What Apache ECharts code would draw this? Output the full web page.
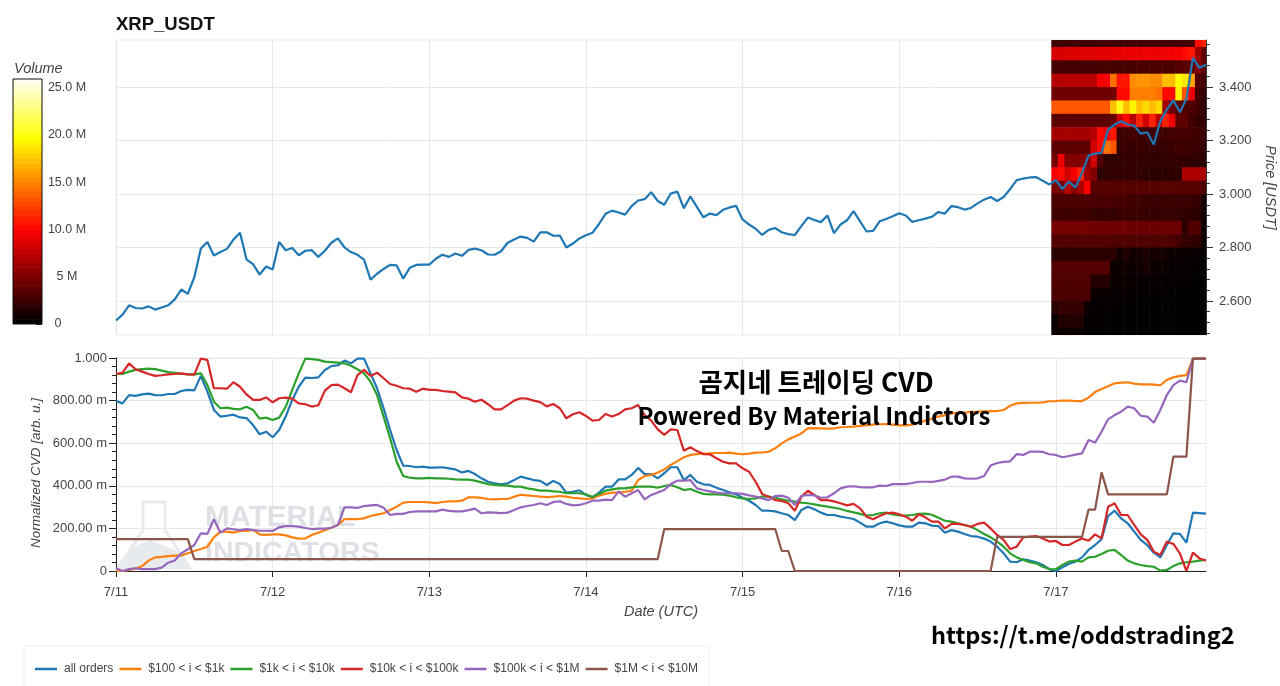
<!DOCTYPE html>
<html>
<head>
<meta charset="utf-8">
<title>XRP_USDT CVD</title>
<script src="https://cdn.jsdelivr.net/npm/echarts@6/dist/echarts.min.js"></script>
<style>
html,body{margin:0;padding:0;background:#fff;overflow:hidden;}
#main{width:1280px;height:686px;}
</style>
</head>
<body>
<div id="main"></div>
<script>
// hours since 7/11 00:00 UTC, one point per hour (0..167)
var dayTicks = ['7/11','7/12','7/13','7/14','7/15','7/16','7/17'];
var dayTickHours = [0,24,48,72,96,120,144];
var priceTicks = [2.6,2.8,3.0,3.2,3.4];
var priceMinorTicks = [2.48,2.52,2.56,2.64,2.68,2.72,2.76,2.84,2.88,2.92,2.96,3.04,3.08,3.12,3.16,3.24,3.28,3.32,3.36,3.44,3.48,3.52,3.56];
var seriesNames = ['all orders','$100 < i < $1k','$1k < i < $10k','$10k < i < $100k','$100k < i < $1M','$1M < i < $10M'];
var seriesColors = ['#1f77b4','#ff7f0e','#2ca02c','#d62728','#9467bd','#8c564b'];

var price = [
2.527,2.549,2.584,2.574,2.572,2.580,2.568,2.576,2.584,2.606,
2.643,2.627,2.689,2.796,2.821,2.770,2.783,2.795,2.830,2.855,
2.755,2.738,2.699,2.729,2.718,2.821,2.790,2.798,2.771,2.788,
2.790,2.765,2.788,2.818,2.834,2.801,2.783,2.773,2.755,2.680,
2.702,2.720,2.735,2.733,2.684,2.724,2.735,2.736,2.736,2.758,
2.773,2.765,2.778,2.769,2.791,2.796,2.790,2.774,2.773,2.786,
2.818,2.830,2.841,2.836,2.822,2.857,2.857,2.844,2.845,2.800,
2.815,2.834,2.846,2.855,2.888,2.926,2.938,2.931,2.923,2.955,
2.976,2.981,3.007,2.974,2.960,3.002,3.009,2.947,2.991,2.952,
2.913,2.927,2.921,2.941,2.950,2.956,2.905,2.886,2.870,2.847,
2.866,2.873,2.857,2.850,2.847,2.880,2.912,2.903,2.895,2.920,
2.854,2.886,2.902,2.936,2.898,2.860,2.862,2.898,2.907,2.917,
2.928,2.920,2.896,2.902,2.908,2.915,2.933,2.927,2.955,2.951,
2.942,2.948,2.965,2.979,2.989,2.974,2.989,3.019,3.052,3.058,
3.062,3.063,3.050,3.036,3.052,3.019,3.047,3.024,3.079,3.144,
3.151,3.154,3.241,3.260,3.272,3.260,3.256,3.226,3.231,3.185,
3.272,3.316,3.351,3.306,3.356,3.509,3.472,3.483
];

var allOrders = [
798,787,826,822,829,833,826,825,831,831,
845,850,848,916,842,756,725,729,734,721,
718,685,642,654,628,662,725,803,865,908,
906,909,944,962,966,988,975,997,997,928,
858,764,662,568,495,493,487,490,485,485,
487,482,477,463,470,455,435,419,412,407,
412,427,443,435,427,423,404,423,408,368,
372,379,357,346,368,396,396,430,430,451,
484,455,455,435,459,487,487,427,451,419,
407,404,391,380,369,360,344,330,310,283,
283,280,271,263,239,286,302,290,274,263,
263,255,250,244,227,208,208,224,232,224,
214,208,208,227,224,213,211,180,192,185,
174,164,161,152,138,114,83,44,41,55,
49,41,28,8,0,17,34,44,64,99,
122,149,258,283,247,224,185,146,122,86,
64,122,177,174,133,274,272,269
];
var order100to1k = [
0,0,5,11,23,49,64,66,70,72,
73,83,94,103,114,158,185,185,180,188,
188,193,172,170,172,172,167,158,152,153,
169,180,192,203,216,243,244,244,247,258,
265,271,286,302,321,324,324,324,322,319,
324,327,327,330,346,346,343,338,336,338,
338,349,358,355,352,349,347,349,352,349,
344,341,338,341,354,362,368,368,372,377,
427,446,451,462,477,498,516,534,545,549,
551,552,554,554,556,551,548,551,556,557,
560,576,599,618,631,646,670,671,670,668,
670,675,676,678,681,684,687,689,690,687,
684,684,687,695,706,715,725,732,740,742,
743,747,748,750,751,751,756,776,787,789,
790,790,792,797,798,800,800,798,798,814,
840,854,867,881,884,886,880,876,876,875,
872,897,909,916,920,997,997,997
];
var order1kto10k = [
925,925,936,944,948,950,948,941,934,930,
926,923,923,928,873,795,764,767,761,759,
771,756,715,720,709,720,771,850,928,997,
995,991,983,981,978,975,964,947,928,889,
826,725,623,513,446,438,435,435,437,435,
435,433,430,429,429,424,416,408,404,402,
401,396,396,388,383,377,377,374,372,365,
365,365,360,347,362,377,383,388,388,393,
396,396,396,391,399,404,393,380,385,372,
362,360,360,358,354,346,341,338,341,349,
349,344,336,330,326,321,318,313,307,302,
297,291,282,275,268,260,263,271,274,266,
261,260,263,268,269,264,250,236,232,224,
216,208,192,174,158,138,114,83,64,52,
41,36,20,9,8,28,44,49,44,64,
67,80,95,99,75,49,36,28,23,20,
2,5,23,36,41,44,49,52
];
var order10kto100k = [
925,931,975,947,936,925,916,919,923,925,
928,923,922,997,991,858,858,856,886,865,
829,803,803,815,792,811,814,809,787,783,
772,778,847,873,875,858,839,920,944,916,
931,905,878,870,858,856,842,856,850,850,
845,842,839,815,809,795,804,783,759,759,
779,800,811,809,800,793,773,784,764,717,
736,745,728,706,709,737,725,737,759,764,
779,732,706,665,639,665,662,565,581,563,
549,548,529,513,505,505,482,466,419,362,
349,333,329,318,283,349,377,357,333,333,
327,318,308,315,294,255,243,258,271,274,
266,255,236,266,252,232,232,200,221,221,
216,208,221,227,200,169,146,103,114,158,
161,164,153,138,141,122,122,138,153,142,
172,153,302,318,263,263,216,172,146,91,
75,138,127,83,0,86,59,49
];
var order100kto1M = [
13,0,9,13,9,9,9,16,39,49,
83,102,122,177,174,243,180,200,196,192,
197,192,189,189,188,205,211,211,208,202,
197,199,199,203,216,299,299,296,305,308,
310,297,263,268,268,277,280,280,280,280,
288,282,280,280,286,293,271,275,274,272,
274,286,299,305,310,318,310,324,327,315,
308,310,318,330,330,335,333,374,349,365,
380,336,357,369,380,408,424,424,427,388,
380,374,368,365,365,365,362,355,349,341,
333,352,354,344,310,352,357,355,344,346,
365,388,396,398,394,393,393,401,399,408,
408,408,413,419,419,418,423,429,443,443,
435,433,435,446,495,507,512,515,549,545,
560,560,559,548,545,534,540,546,552,615,
603,654,712,732,748,772,764,729,725,696,
756,826,873,894,886,997,997,997
];
var order1Mto10M = [
150,150,150,150,150,150,150,150,150,150,
150,150,56,56,56,56,56,56,56,56,
56,56,56,56,56,56,56,56,56,56,
56,56,56,56,56,56,56,56,56,56,
56,56,56,56,56,56,56,56,56,56,
56,56,56,56,56,56,56,56,56,56,
56,56,56,56,56,56,56,56,56,56,
56,56,56,56,56,56,56,56,56,56,
56,56,56,56,197,197,197,197,197,197,
197,197,197,197,197,197,197,197,197,197,
197,197,94,94,0,0,0,0,0,0,
0,0,0,0,0,0,0,0,0,0,
0,0,0,0,0,0,0,0,0,0,
0,0,0,0,0,160,160,160,160,160,
160,160,160,160,160,160,160,160,160,288,
288,463,360,360,360,360,360,360,360,360,
360,360,537,537,537,997,997,997
];

// heatmap: volume in millions per price bin (bin low edge, top row first), one column per hour
var heatFirstHour = 143.3;
var heatBinHeight = 0.05;
var heatPriceBins = [3.55,3.50,3.45,3.40,3.35,3.30,3.25,3.20,3.15,3.10,3.05,3.00,2.95,2.90,2.85,2.80,2.75,2.70,2.65,2.60,2.55,2.50,2.45];
var heatVolumes = [
[2.4,2.4,2.4,2.5,2.5,2.5,2.5,2.5,2.5,2.5,2.5,2.5,2.6,2.6,2.6,2.6,2.6,2.6,2.6,2.6,2.7,2.5,10,11],
[8.2,8.2,8.3,8.3,8.5,8.5,8.5,8.6,8.6,8.8,8.8,8.8,8.9,8.9,9,9,9,9.2,9.2,9.5,10,10.5,6,3.5],
[2.6,2.6,2.6,2.6,2.6,2.6,2.6,2.7,2.7,2.7,2.7,2.7,2.7,2.8,2.8,2.8,2.8,2.9,2.9,3.2,3.4,3.6,5,3.6],
[6.8,6.8,7,7,7,7,7,9.3,9.5,14,10.5,10.5,15,15.5,15.5,15,15,17,17,19.5,18.5,16,3,2.5],
[4.2,4.2,4.2,4.2,4.2,4.2,4.2,4.2,4.2,4.3,10,10,14.5,14.5,14.5,14.5,14,10,10,19,13,9,2.5,2],
[13,13,13,13,13,13,13,13,13,17,20,17,19,17,18,17,18,6,4,3.5,3,3,2.5,2],
[3.5,3.5,3.5,3.5,3.5,3.5,3.5,3.5,3.5,4,8,10,7,11,8,11,7,11,9,3.5,3.5,2.5,2,2],
[6.3,6.3,6.3,6.3,6.3,6.3,7,10,9,10.5,2.2,2.4,2.5,2.3,2.5,2.4,2.3,2.4,2.5,2.6,2.6,2.5,2.4,2.2],
[3.5,3.5,3.5,3.5,3.5,3.5,8,10,14,13,2,2.2,2.1,2.2,2.1,2,2,2,2.2,2.4,2.4,2.3,2.1,2],
[4.5,9,5,5,5,5,8,3,1.8,1.8,1.9,1.9,2,1.9,1.9,1.8,1.8,1.8,1.9,1.9,1.9,1.8,1.8,1.7],
[9.5,10,8,9.5,11,6,5,1.8,1.8,1.9,1.9,2,2,2,1.7,1.7,1.7,1.7,1.7,1.7,6.5,6.5,6.5,6.5],
[4.5,4.5,7,5,6.5,9.5,3.3,3.3,3.3,3.3,3.3,3.3,3.3,3.3,3.3,3.3,3.3,3.3,3.3,3.3,3.3,3.3,3.3,3],
[2.8,2.8,2.8,2.8,2.8,2.8,2.8,2.8,2.8,2.8,2.6,2.6,2.4,2.4,2.2,2.2,2.2,2.2,2.2,2.2,2.2,2.2,2,0.8],
[2.4,2.4,2.4,2.4,2.4,2.4,2,2,2,2,2.2,2.2,2.2,2.2,2,2,2,2,2,2,1.8,1.8,1.5,0.6],
[4.5,4.5,4.5,4.5,4.4,4.4,4.2,4.2,4.2,4.2,4.2,4.2,4,4,4,4,4,4,4,4,1.8,3.2,3,0.5],
[3.2,3.2,3.2,3.2,3.2,3.2,3.2,3.2,3.2,3.1,3.1,3.1,3.1,3,3,3,3,3,2.9,2.5,2,2,1.8,0.3],
[1.6,1.6,1.6,1.6,1.6,1.6,1.6,1.6,1.6,1.6,0.7,1.2,0.7,0.7,1.1,0.8,0.9,0.6,0.5,0.5,0.4,0.4,0.3,0.2],
[3.2,3.2,3.2,3.2,3.2,3.2,3.2,3.2,3.2,0.5,0.5,0.7,0.5,0.6,0.9,0.5,0.4,0.4,0.3,0.3,0.3,0.2,0.2,0.1],
[3,3,3,3,3,3,1.5,1.5,1.5,0.4,0.4,0.4,0.3,0.3,0.3,0.3,0.3,0.2,0.2,0.2,0.2,0.2,0.1,0.1],
[2.8,2.8,2.8,2.8,2.8,2.8,0.4,0.4,0.4,0.3,0.3,0.3,0.2,0.2,0.2,0.2,0.2,0.2,0.1,0.1,0.1,0.1,0.1,0.1],
[1.5,2,2,2,2,0.4,0.2,0.2,0.2,0.2,0.2,0.1,0.1,0.1,0.1,0.1,0.1,0.1,0.1,0.1,0.1,0.1,0.1,0.1],
[0.3,1.2,1.2,1.2,1.2,0.2,0.15,0.15,0.1,0.1,0.1,0.1,0.1,0.1,0.1,0.1,0.1,0.1,0.1,0.1,0.1,0.1,0.1,0.1],
[0.5,0.5,0.5,0.5,0.5,0.2,0.1,0.1,0.1,0.1,0.1,0.1,0.1,0.1,0.1,0.1,0.1,0.1,0.1,0.1,0.1,0.1,0.1,0.1]
];
var colorbarSteps = [0,0.5,1,1.5,2,2.5,3,3.5,4,4.5,5,5.5,6,6.5,7,7.5,8,8.5,9,9.5,10,10.5,11,11.5,12,12.5,13,13.5,14,14.5,15,15.5,16,16.5,17,17.5,18,18.5,19,19.5,20,20.5,21,21.5,22,22.5,23,23.5,24,24.5,25,25.5];
var hotColors = ['#000000','#550000','#aa0000','#ff0000','#ff5500','#ffaa00','#ffff00','#ffff80','#ffffff'];

function withHours(values){
    return values.map(function(v,i){ return [i,v]; });
}

var heatData = [];
heatVolumes.forEach(function(row,r){
    row.forEach(function(v,c){
        heatData.push([heatFirstHour+c, heatPriceBins[r], v]);
    });
});
var colorbarData = colorbarSteps.map(function(v){ return [0,v,v]; });

// one rectangle per data cell, placed by the axes
function cellRenderer(cellWidth,cellHeight){
    return function(params,api){
        var p0 = api.coord([api.value(0),api.value(1)+cellHeight]);
        var p1 = api.coord([api.value(0)+cellWidth,api.value(1)]);
        var rect = echarts.graphic.clipRectByRect(
            {x:p0[0],y:p0[1],width:p1[0]-p0[0]+0.6,height:p1[1]-p0[1]+0.6},
            {x:params.coordSys.x,y:params.coordSys.y,width:params.coordSys.width,height:params.coordSys.height}
        );
        return rect && {type:'rect',shape:rect,style:{fill:api.visual('color')}};
    };
}

var lineSeries = [allOrders,order100to1k,order1kto10k,order10kto100k,order100kto1M,order1Mto10M].map(function(values,i){
    return {
        name:seriesNames[i], type:'line', xAxisIndex:1, yAxisIndex:1,
        data:withHours(values), symbol:'none', z:5+i,
        lineStyle:{color:seriesColors[i],width:2.2}, itemStyle:{color:seriesColors[i]},
        silent:true
    };
});

var axisText = {color:'#444',fontSize:13,fontFamily:'Liberation Sans'};
var nameText = {color:'#444',fontSize:14.5,fontStyle:'italic',fontFamily:'Liberation Sans'};
var gridLine = {show:true,lineStyle:{color:'#e8e8e8',width:1}};

var chart = echarts.init(document.getElementById('main'));
chart.setOption({
    animation:false,
    backgroundColor:'#fff',
    grid:[
        {left:116,top:40,width:1090,height:295,show:true,borderColor:'#ececec',borderWidth:1,outerBoundsMode:'none'},
        {left:116,top:358,width:1090,height:213,show:true,borderColor:'#ececec',borderWidth:1,outerBoundsMode:'none'},
        {left:13,top:79,width:29,height:245,outerBoundsMode:'none'}
    ],
    xAxis:[
        {type:'value',gridIndex:0,min:0,max:167,interval:24,axisLine:{show:false},axisTick:{show:false},axisLabel:{show:false},splitLine:gridLine},
        {type:'value',gridIndex:1,min:0,max:167,interval:24,
            axisLine:{show:true,onZero:false,lineStyle:{color:'#222',width:1}},
            axisTick:{show:true,length:6,customValues:dayTickHours,lineStyle:{color:'#222'}},
            axisLabel:Object.assign({margin:15,customValues:dayTickHours,formatter:function(v){ return dayTicks[v/24]; }},axisText),
            splitLine:gridLine,
            name:'Date (UTC)',nameLocation:'middle',nameGap:33,nameTextStyle:nameText},
        {type:'value',gridIndex:2,min:0,max:1,show:false}
    ],
    yAxis:[
        {type:'value',gridIndex:0,position:'right',min:2.473,max:3.576,
            axisLine:{show:true,onZero:false,lineStyle:{color:'#333'}},
            axisTick:{show:true,length:7,customValues:priceTicks,lineStyle:{color:'#333'}},
            axisLabel:Object.assign({margin:13,customValues:priceTicks,formatter:function(v){ return v.toFixed(3); }},axisText),
            splitLine:gridLine,
            name:'Price [USDT]',nameLocation:'middle',nameRotate:-90,nameGap:56,nameTextStyle:nameText},
        {type:'value',gridIndex:1,min:0,max:1000,interval:200,
            axisLine:{show:true,onZero:false,lineStyle:{color:'#222'}},
            axisTick:{show:true,length:7,lineStyle:{color:'#222'}},
            minorTick:{show:true,splitNumber:5,length:4,lineStyle:{color:'#222'}},
            axisLabel:Object.assign({margin:9,formatter:function(v){
                if(v===0) return '0';
                if(v===1000) return '1.000';
                return v.toFixed(2)+' m';
            }},axisText),
            splitLine:gridLine},
        {type:'value',gridIndex:2,position:'right',min:0,max:25.9,interval:5,
            axisLine:{show:false,onZero:false},
            axisTick:{show:true,inside:true,length:6,lineStyle:{color:'#222'}},
            axisLabel:Object.assign({},axisText,{fontSize:12.5,margin:25,align:'center',formatter:function(v){
                if(v===0) return '{zero|0}';
                return v===5 ? '5 M' : v.toFixed(1)+' M';
            },rich:{zero:{padding:[0,18,0,0],color:'#444',fontSize:12.5}}}),
            splitLine:{show:false}},
        // short ticks between the labelled prices
        {type:'value',gridIndex:0,position:'right',min:2.473,max:3.576,
            axisLine:{show:false,onZero:false},
            axisTick:{show:true,length:4,customValues:priceMinorTicks,lineStyle:{color:'#333'}},
            axisLabel:{show:false},splitLine:{show:false}}
    ],
    visualMap:{show:false,type:'continuous',min:0,max:25.9,dimension:2,seriesIndex:[0,2],inRange:{color:hotColors}},
    legend:{
        left:24,top:646,data:seriesNames,icon:'rect',itemWidth:22,itemHeight:2.5,itemGap:6,
        padding:[17,11,13,11],borderColor:'#eee',borderWidth:1,
        textStyle:{color:'#444',fontSize:12,fontFamily:'Liberation Sans',padding:[0,0,0,2]},
        selectedMode:false
    },
    graphic:{elements:[
        // watermark under the lines
        {type:'polygon',silent:true,z:1,shape:{points:[[143,502],[165,502],[165,530],[190,568],[118,568],[143,530]]},style:{fill:'none',stroke:'#e8ebee',lineWidth:3}},
        {type:'polygon',silent:true,z:1,shape:{points:[[130,548],[150,540],[165,546],[180,552],[188,568],[120,568]]},style:{fill:'#e8ebee'}},
        {type:'text',silent:true,z:1,x:205,y:503,style:{text:'MATERIAL',font:'bold 29.5px "Liberation Sans"',fill:'#dde1e5'}},
        {type:'text',silent:true,z:1,x:205,y:539,style:{text:'INDICATORS',font:'bold 28.5px "Liberation Sans"',fill:'#dde1e5'}},
        // texts on top
        {type:'text',z:100,x:116,y:15,style:{text:'XRP_USDT',font:'bold 18.5px "Liberation Sans"',fill:'#111'}},
        {type:'text',z:100,x:14,y:61,style:{text:'Volume',font:'italic 14.5px "Liberation Sans"',fill:'#444'}},
        {type:'text',z:100,x:36,y:473,rotation:Math.PI/2,style:{text:'Normalized CVD [arb. u.]',font:'italic 13.5px "Liberation Sans"',fill:'#444',align:'center',verticalAlign:'middle'}},
        {type:'text',z:100,x:816,y:369,style:{text:'곰지네 트레이딩 CVD',font:'bold 26.5px "Noto Sans CJK KR"',fill:'#000',align:'center'}},
        {type:'text',z:100,x:814,y:404,style:{text:'Powered By Material Indictors',font:'bold 24px "Noto Sans CJK KR"',fill:'#000',align:'center'}},
        {type:'text',z:100,x:931,y:623,style:{text:'https://t.me/oddstrading2',font:'bold 23.5px "Noto Sans CJK KR"',fill:'#000'}},
        {type:'rect',silent:true,z:100,shape:{x:13,y:79,width:29,height:245},style:{fill:'none',stroke:'#111',lineWidth:1}}
    ]},
    series:[
        {type:'custom',xAxisIndex:0,yAxisIndex:0,data:heatData,z:2,silent:true,
            encode:{x:0,y:1},renderItem:cellRenderer(1,heatBinHeight)},
        {type:'line',name:'price',xAxisIndex:0,yAxisIndex:0,data:withHours(price),symbol:'none',z:6,silent:true,
            lineStyle:{color:'#1f77b4',width:2.2},itemStyle:{color:'#1f77b4'}},
        {type:'custom',xAxisIndex:2,yAxisIndex:2,data:colorbarData,z:2,silent:true,
            encode:{x:0,y:1},renderItem:cellRenderer(1,0.5)}
    ].concat(lineSeries)
});
</script>
</body>
</html>
